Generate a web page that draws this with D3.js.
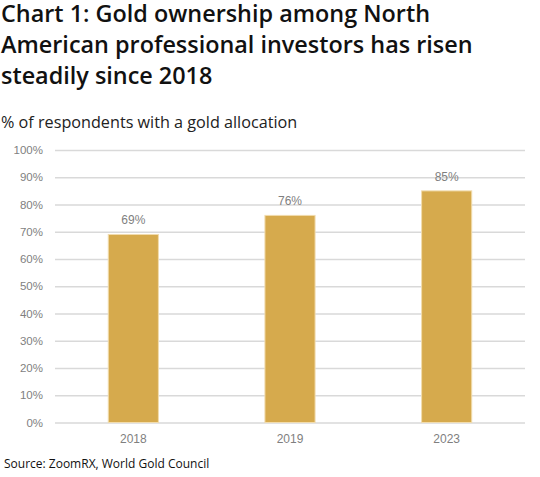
<!DOCTYPE html>
<html><head><meta charset="utf-8">
<script src="https://cdn.jsdelivr.net/npm/d3@7"></script>
<style>
body{margin:0;background:#fff;}
</style></head>
<body>
<svg id="c" width="540" height="477"></svg>
<script>
const categories = ["2018", "2019", "2023"];
const values = [69, 76, 85];
const yTicks = [0,10,20,30,40,50,60,70,80,90,100];
const titleLines = ["Chart 1: Gold ownership among North", "American professional investors has risen", "steadily since 2018"];
const subtitle = "% of respondents with a gold allocation";
const source = "Source: ZoomRX, World Gold Council";

const svg = d3.select("#c");
svg.append("rect").attr("width",540).attr("height",477).attr("fill","#fff");

const titleFont = "'Open Sans', 'Noto Sans', sans-serif";
svg.append("g").selectAll("text").data(titleLines).join("text")
  .attr("x", 1).attr("y", (d,i)=>22 + i*31)
  .attr("font-family", titleFont).attr("font-size", 23.4).attr("font-weight", 600)
  .attr("fill", "#111").text(d=>d);

svg.append("text").attr("x",1).attr("y",128)
  .attr("font-family", titleFont).attr("font-size", 16.2).attr("fill","#222").text(subtitle);

const x = d3.scaleBand().domain(categories).range([55, 525]).paddingInner(0.68).paddingOuter(0.34);
const y = d3.scaleLinear().domain([0,100]).range([422.5, 150]);

const axisFont = "'Liberation Sans', Arial, sans-serif";
const gy = svg.append("g").attr("transform","translate(55,0)")
  .call(d3.axisLeft(y).tickValues(yTicks).tickFormat(d=>d+"%").tickSize(-470).tickPadding(12));
gy.select(".domain").remove();
gy.selectAll(".tick line").attr("stroke","#d9d9d9").attr("stroke-width",1.3);
gy.selectAll(".tick text").attr("font-family",axisFont).attr("font-size",11.5).attr("fill","#7f7f7f");

svg.append("g").selectAll("rect").data(values).join("rect")
  .attr("x",(d,i)=>x(categories[i])).attr("width",x.bandwidth())
  .attr("y",d=>y(d)).attr("height",d=>y(0)-y(d))
  .attr("fill","#D6AA4D").attr("stroke","#F1DCAE").attr("stroke-width",1);

svg.append("g").selectAll("text").data(values).join("text")
  .attr("x",(d,i)=>x(categories[i])+x.bandwidth()/2).attr("y",d=>y(d)-10)
  .attr("text-anchor","middle").attr("font-family",axisFont).attr("font-size",12)
  .attr("fill","#7f7f7f").text(d=>d+"%");

const gx = svg.append("g").attr("transform","translate(0,422.5)")
  .call(d3.axisBottom(x).tickSize(0).tickPadding(12));
gx.select(".domain").remove();
gx.selectAll(".tick text").attr("font-family",axisFont).attr("font-size",12).attr("fill","#7f7f7f");

svg.append("text").attr("x",4).attr("y",468)
  .attr("font-family", titleFont).attr("font-size",12).attr("fill","#111").text(source);
</script>
</body></html>
